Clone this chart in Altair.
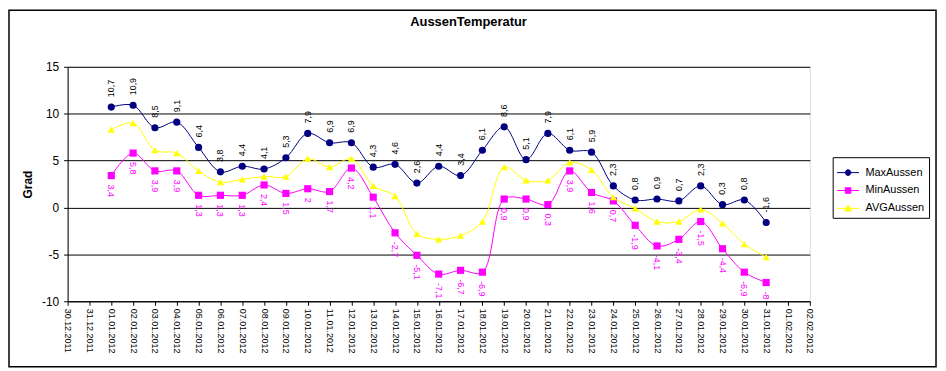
import altair as alt
import pandas as pd

axis_dates = [
    "30.12.2011", "31.12.2011",
    "01.01.2012", "02.01.2012", "03.01.2012", "04.01.2012", "05.01.2012",
    "06.01.2012", "07.01.2012", "08.01.2012", "09.01.2012", "10.01.2012",
    "11.01.2012", "12.01.2012", "13.01.2012", "14.01.2012", "15.01.2012",
    "16.01.2012", "17.01.2012", "18.01.2012", "19.01.2012", "20.01.2012",
    "21.01.2012", "22.01.2012", "23.01.2012", "24.01.2012", "25.01.2012",
    "26.01.2012", "27.01.2012", "28.01.2012", "29.01.2012", "30.01.2012",
    "31.01.2012", "01.02.2012", "02.02.2012",
]
data_dates = axis_dates[2:33]

max_vals = [10.7, 10.9, 8.5, 9.1, 6.4, 3.8, 4.4, 4.1, 5.3, 7.9, 6.9, 6.9, 4.3, 4.6, 2.6, 4.4,
            3.4, 6.1, 8.6, 5.1, 7.9, 6.1, 5.9, 2.3, 0.8, 0.9, 0.7, 2.3, 0.3, 0.8, -1.6]
min_vals = [3.4, 5.8, 3.9, 3.9, 1.3, 1.3, 1.3, 2.4, 1.5, 2, 1.7, 4.2, 1.1, -2.7, -5.1, -7.1,
            -6.7, -6.9, 0.9, 0.9, 0.3, 3.9, 1.6, 0.7, -1.9, -4.1, -3.4, -1.5, -4.4, -6.9, -8]
avg_vals = [8.3, 9.0, 6.1, 5.8, 3.9, 2.7, 3.0, 3.3, 3.3, 5.2, 4.3, 5.2, 2.3, 1.2, -2.8, -3.4,
            -3.0, -1.5, 4.3, 2.9, 2.9, 4.8, 4.0, 1.1, -0.1, -1.5, -1.5, -0.2, -1.7, -3.9, -5.3]

series_names = ["MaxAussen", "MinAussen", "AVGAussen"]
series_colors = ["#000080", "#FF00FF", "#FFFF00"]
series_shapes = ["circle", "square", "triangle-up"]
# legend glyphs: a short line with the series marker in the middle
legend_shapes = [
    "M-1,0H1M0.26,0A0.26,0.26,0,1,1,-0.26,0A0.26,0.26,0,1,1,0.26,0Z",
    "M-1,0H1M-0.25,-0.25H0.25V0.25H-0.25Z",
    "M-1,0H1M0,-0.3L0.3,0.24H-0.3Z",
]
y_ticks = [-10, -5, 0, 5, 10, 15]

rows = []
for name, vals in zip(series_names, [max_vals, min_vals, avg_vals]):
    for d, v in zip(data_dates, vals):
        rows.append({"date": d, "series": name, "value": v,
                     "label": f"{v:g}".replace(".", ",")})
df = pd.DataFrame(rows)

FONT = "Liberation Sans"

x_enc = alt.X(
    "date:N",
    sort=None,
    scale=alt.Scale(type="point", domain=axis_dates, padding=0),
    axis=alt.Axis(title=None, labelAngle=90, labelFontSize=9, labelFont=FONT,
                  labelColor="black", tickSize=4, tickColor="black",
                  domainColor="black", labelPadding=3, grid=False,
                  labelOverlap=False),
)
y_enc = alt.Y(
    "value:Q",
    scale=alt.Scale(domain=[-10, 15], nice=False, zero=False),
    axis=alt.Axis(values=y_ticks, title="Grad", titleFont=FONT, titleFontSize=12,
                  titleFontWeight="bold", titleColor="black", titleAngle=-90,
                  titleX=-40, titleY=118, titleAlign="center", titleBaseline="middle",
                  labelFont=FONT, labelFontSize=12, labelColor="black",
                  labelExpr="'' + datum.value",
                  tickSize=4, tickColor="black", domainColor="black", labelPadding=5,
                  grid=True, gridColor="black", gridWidth=1, gridOpacity=1),
)

color_scale = alt.Scale(domain=series_names, range=series_colors)


def make_legend():
    return alt.Legend(
        title=None, orient="none", legendX=770, legendY=91,
        strokeColor="black", fillColor="white", padding=4,
        labelFont=FONT, labelFontSize=11, labelColor="black",
        symbolSize=484, rowPadding=1, labelOffset=6,
        symbolStrokeWidth=1, symbolOpacity=1,
    )


base = alt.Chart(df)

lines = base.mark_line(interpolate="catmull-rom", strokeWidth=1).encode(
    x=x_enc, y=y_enc, color=alt.Color("series:N", scale=color_scale, legend=None),
    detail="series:N")

points = base.mark_point(filled=True, size=52, opacity=1, strokeWidth=1).encode(
    x=x_enc, y=y_enc,
    color=alt.Color("series:N", scale=color_scale, legend=None),
    shape=alt.Shape("series:N", scale=alt.Scale(domain=series_names, range=series_shapes),
                    legend=None),
)

legend_layer = base.transform_filter("false").mark_point(filled=True, opacity=1).encode(
    fill=alt.Fill("series:N", scale=color_scale, legend=make_legend()),
    stroke=alt.Stroke("series:N", scale=color_scale, legend=make_legend()),
    shape=alt.Shape("series:N", scale=alt.Scale(domain=series_names, range=legend_shapes),
                    legend=make_legend()),
)

max_labels = base.transform_filter(alt.datum.series == "MaxAussen").mark_text(
    angle=270, align="left", baseline="middle", dx=10, fontSize=9, font=FONT,
    color="black").encode(x=x_enc, y=y_enc, text="label:N")

min_labels = base.transform_filter(alt.datum.series == "MinAussen").mark_text(
    angle=90, align="left", baseline="middle", dx=9, fontSize=9, font=FONT,
    color="#FF00FF").encode(x=x_enc, y=y_enc, text="label:N")

border = alt.Chart(pd.DataFrame({"k": [0]})).mark_rect(
    fillOpacity=0, stroke="black", strokeWidth=1.5).encode(
    x=alt.value(-59), x2=alt.value(874), y=alt.value(-57), y2=alt.value(302))

chart = alt.layer(lines, points, max_labels, min_labels, legend_layer, border).resolve_scale(
    shape="independent", fill="independent", stroke="independent"
).properties(
    width=747, height=236,
    autosize=alt.AutoSizeParams(type="none"),
    padding={"left": 60, "top": 58, "right": 129, "bottom": 68},
    title=alt.TitleParams("AussenTemperatur", font=FONT, fontSize=13, fontWeight="bold",
                          color="black", anchor="middle", frame="group", dx=30, offset=-20),
).configure_view(fill="#C0C0C0", stroke="#808080", strokeWidth=1).configure(
    background="white")

chart.save("out.html", embed_options={"renderer": "svg", "actions": False})
